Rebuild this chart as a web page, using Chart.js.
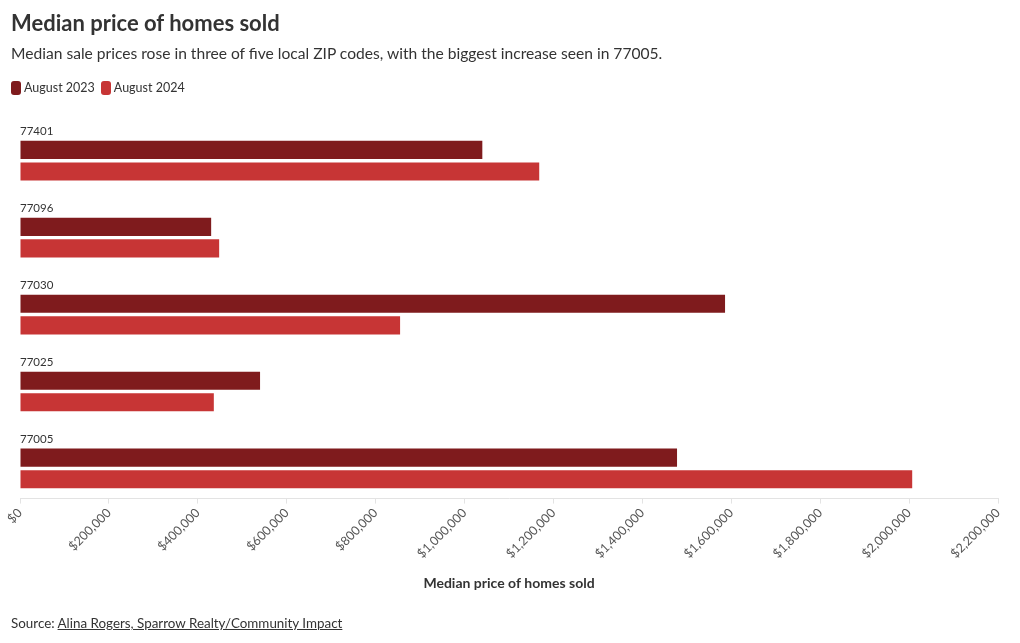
<!DOCTYPE html>
<html>
<head>
<meta charset="utf-8">
<script src="https://cdn.jsdelivr.net/npm/chart.js@4/dist/chart.umd.min.js"></script>
<style>
  html, body { margin: 0; padding: 0; background: #fff; }
  body { width: 1020px; height: 643px; position: relative; overflow: hidden; font-family: Lato, sans-serif; color: #333; }
  #wrap { position: absolute; left: 0; top: 0; width: 1020px; height: 643px; }
  .title { position: absolute; left: 11px; top: 9px; font-size: 22px; font-weight: 700; color: #333; margin: 0; white-space: nowrap; }
  .subtitle { position: absolute; left: 11px; top: 44px; font-size: 15.6px; color: #333; white-space: nowrap; }
  .legend { position: absolute; left: 11px; top: 80px; font-size: 12.5px; color: #333; white-space: nowrap; }
  .legend span.item { display: inline-flex; align-items: center; margin-right: 6px; }
  .legend i { display: inline-block; width: 10px; height: 14px; border-radius: 3px; margin-right: 3px; }
  .source { position: absolute; left: 11px; top: 615px; font-size: 13.4px; color: #333; white-space: nowrap; }
  .source a { color: #333; text-decoration: underline; }
</style>
</head>
<body>
<div id="wrap"><canvas id="c" width="1020" height="643"></canvas></div>
<div class="title">Median price of homes sold</div>
<div class="subtitle">Median sale prices rose in three of five local ZIP codes, with the biggest increase seen in 77005.</div>
<div class="legend" id="legend"></div>
<div class="source">Source: <a>Alina Rogers, Sparrow Realty/Community Impact</a></div>
<script>
// ---- data ----
const categories = ["77401", "77096", "77030", "77025", "77005"];
const seriesNames = ["August 2023", "August 2024"];
const aug2023 = [1040000, 430000, 1586000, 540000, 1478000];
const aug2024 = [1168000, 448000, 855000, 436000, 2007000];
const xTicks = [0, 200000, 400000, 600000, 800000, 1000000, 1200000, 1400000, 1600000, 1800000, 2000000, 2200000];
const colors = ["#7f1b1d", "#c73535"];

const FONT = "Lato, sans-serif";

// legend (HTML)
const lg = document.getElementById('legend');
seriesNames.forEach((n, i) => {
  const s = document.createElement('span');
  s.className = 'item';
  s.innerHTML = '<i style="background:' + colors[i] + '"></i>' + n;
  lg.appendChild(s);
});

const catLabels = {
  id: 'catLabels',
  afterDatasetsDraw(chart) {
    const ctx = chart.ctx;
    const ys = chart.scales.y;
    ctx.save();
    ctx.font = '11.5px ' + FONT;
    ctx.fillStyle = '#333';
    ctx.textBaseline = 'middle';
    ctx.textAlign = 'left';
    categories.forEach((c, i) => {
      ctx.fillText(c, chart.chartArea.left, ys.getPixelForValue(i) - 29);
    });
    ctx.restore();
  }
};

const fmt = v => '$' + Number(v).toLocaleString('en-US');

new Chart(document.getElementById('c'), {
  type: 'bar',
  data: {
    datasets: [
      { label: seriesNames[0], data: aug2023.map((v, i) => ({ x: v, y: i })), backgroundColor: colors[0] },
      { label: seriesNames[1], data: aug2024.map((v, i) => ({ x: v, y: i })), backgroundColor: colors[1] }
    ]
  },
  options: {
    indexAxis: 'y',
    responsive: false,
    animation: false,
    devicePixelRatio: 1,
    categoryPercentage: 0.561,
    barPercentage: 0.84,
    layout: { padding: { left: 20, right: 22, top: 115, bottom: 51 } },
    plugins: { legend: { display: false }, tooltip: { enabled: false } },
    scales: {
      y: {
        type: 'linear', reverse: true, display: false, offset: false,
        grid: { offset: false },
        min: -0.594, max: 4.392,
        afterBuildTicks: (s) => { s.ticks = categories.map((c, i) => ({ value: i })); }
      },
      x: {
        type: 'linear', min: 0, max: 2200000,
        afterBuildTicks: (s) => { s.ticks = xTicks.map(v => ({ value: v })); },
        grid: { drawOnChartArea: false, drawTicks: true, tickLength: 5, color: '#e3e3e3' },
        border: { display: true, color: '#e3e3e3' },
        ticks: {
          minRotation: 45, maxRotation: 45, autoSkip: false,
          color: '#555', font: { family: FONT, size: 12.5 }, padding: 2,
          callback: (v) => fmt(v)
        },
        title: { display: true, text: 'Median price of homes sold', color: '#333',
                 font: { family: FONT, size: 14, weight: 'bold' }, padding: { top: 12, bottom: 0 } }
      }
    }
  },
  plugins: [catLabels]
});
</script>
</body>
</html>
